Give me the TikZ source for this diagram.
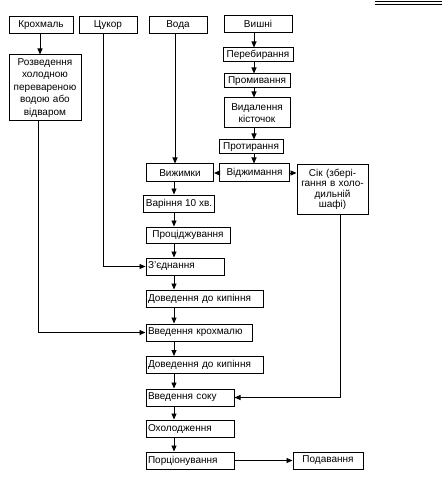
\documentclass[tikz,border=0pt]{standalone}
\usepackage{fontspec}
\setmainfont{Liberation Sans}
\usetikzlibrary{arrows.meta}

\begin{document}
\begin{tikzpicture}[x=1pt,y=1pt,yscale=-1,xscale=1,
        box/.style={draw, line width=1pt, inner sep=2pt, minimum height=17pt, align=center, font=\fontsize{10}{12.5}\selectfont},
        lbox/.style={box, align=left},
        flow/.style={line width=0.9pt, -{Triangle[length=6pt,width=5pt]}}]
        \useasboundingbox (0,0) rectangle (442,494);

        %Straight Lines: page rule
        \draw [line width=1.2pt] (375,1.5) -- (442,1.5) ;
        \draw [line width=0.6pt] (375,4) -- (442,4) ;

        %Vertical lines used by the connectors
        \coordinate (starch) at (40,0);
        \coordinate (mix) at (38,0);
        \coordinate (sugar) at (103,0);
        \coordinate (water) at (175,0);
        \coordinate (spine) at (174,0);
        \coordinate (cherry) at (254,0);
        \coordinate (juice) at (340,0);

        %Shape: Rectangle (top row)
        \node [box, minimum width=64pt] (krokhmal) at (41,25.5) {Крохмаль};
        \node [box, minimum width=58pt] (tsukor) at (108,25.5) {Цукор};
        \node [box, minimum width=58pt] (voda) at (178,25.5) {Вода};
        \node [box, minimum width=68pt] (vyshni) at (258,24) {Вишні};

        %Shape: Rectangle (starch)
        \node [box, text width=68pt, minimum height=66pt] (rozvedennia) at (45,88) {Розведення\\холодною\\перевареною\\водою або\\відваром};

        %Shape: Rectangle (cherries)
        \node [box, minimum width=70pt, minimum height=14pt] (perebyrannia) at (258,55) {Перебирання};
        \node [box, minimum width=66pt, minimum height=14pt] (promyvannia) at (257,81) {Промивання};
        \node [box, text width=62pt, minimum height=30pt, font=\fontsize{10}{11.5}\selectfont] (vydalennia) at (257,113) {Видалення\\кісточок};
        \node [box, minimum width=64pt, minimum height=14pt] (protyrannia) at (251,147) {Протирання};
        \node [box, minimum width=70pt, minimum height=18pt] (vidzhymannia) at (254.5,173) {Віджимання};
        \node [box, minimum width=67pt, minimum height=18pt] (vyzhymky) at (180,173) {Вижимки};
        \node [box, text width=67pt, minimum height=49pt, font=\fontsize{10}{10.5}\selectfont] (sik) at (332.5,189.5) {Сік (збері-\\гання в холо-\\дильній\\шафі)};

        %Shape: Rectangle (main line)
        \node [box, minimum width=64pt] (varinnia) at (179,203.5) {Варіння 10 хв.};
        \node [box, minimum width=84pt, minimum height=16pt] (protsidzhuvannia) at (188,235) {Проціджування};
        \node [lbox, text width=74pt] (ziednannia) at (185,266.5) {З’єднання};
        \node [lbox, text width=113pt] (dovedennia) at (204.5,298.5) {Доведення до кипіння};
        \node [lbox, text width=102pt] (krokhmaliu) at (199,332.5) {Введення крохмалю};
        \node [lbox, text width=113pt] (kypinnia) at (204.5,365) {Доведення до кипіння};
        \node [lbox, text width=84pt] (soku) at (190,397.5) {Введення соку};
        \node [lbox, text width=84pt] (okholodzhennia) at (190,428.5) {Охолодження};
        \node [lbox, text width=84pt] (portsionuvannia) at (190,460.5) {Порціонування};
        \node [box, minimum width=70pt] (podavannia) at (328,460.5) {Подавання};

        %Straight Lines
        \draw [flow] (krokhmal.south -| starch) -- (rozvedennia.north -| starch) ;
        \foreach \a/\b in {vyshni/perebyrannia, perebyrannia/promyvannia, promyvannia/vydalennia, vydalennia/protyrannia, protyrannia/vidzhymannia}
            \draw [flow] (\a.south -| cherry) -- (\b.north -| cherry) ;
        \draw [flow] (vidzhymannia.west) -- (vyzhymky.east) ;
        \draw [flow] (vidzhymannia.east) -- (sik.west |- vidzhymannia.east) ;
        \draw [flow] (voda.south -| water) -- (vyzhymky.north -| water) ;
        \foreach \a/\b in {vyzhymky/varinnia, varinnia/protsidzhuvannia, protsidzhuvannia/ziednannia, ziednannia/dovedennia, dovedennia/krokhmaliu, krokhmaliu/kypinnia, kypinnia/soku, soku/okholodzhennia, okholodzhennia/portsionuvannia}
            \draw [flow] (\a.south -| spine) -- (\b.north -| spine) ;
        \draw [flow] (tsukor.south -| sugar) |- (ziednannia.west) ;
        \draw [flow] (rozvedennia.south -| mix) |- (krokhmaliu.west) ;
        \draw [flow] (sik.south -| juice) |- (soku.east) ;
        \draw [flow] (portsionuvannia.east) -- (podavannia.west) ;

\end{tikzpicture}
\end{document}
